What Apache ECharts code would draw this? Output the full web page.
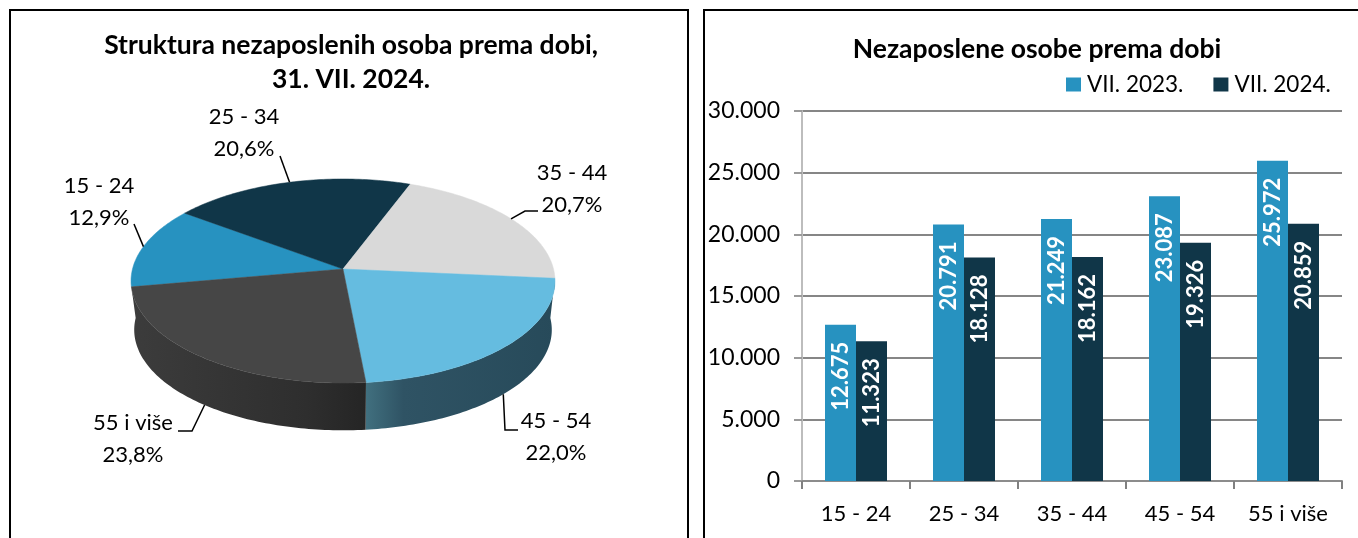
<!DOCTYPE html>
<html>
<head>
<meta charset="utf-8">
<title>Nezaposlene osobe prema dobi</title>
<script src="https://cdn.jsdelivr.net/npm/echarts@6/dist/echarts.min.js"></script>
<style>
  html, body { margin: 0; padding: 0; background: #fff; }
  #chart { width: 1358px; height: 538px; }
</style>
</head>
<body>
<div id="chart"></div>
<script>
const categories = ['15 - 24', '25 - 34', '35 - 44', '45 - 54', '55 i više']
const values2023 = [12675, 20791, 21249, 23087, 25972]
const values2024 = [11323, 18128, 18162, 19326, 20859]
const seriesNames = ['VII. 2023.', 'VII. 2024.']
const yTicks = { min: 0, max: 30000, interval: 5000 }

const FONT = 'Lato, "Noto Sans", sans-serif'
const BLUE = '#2792C0'
const NAVY = '#103648'

// pie look, in pixels (the reference is a 3d pie seen in perspective)
const pie = { cx: 343, cy: 269, rx: 210.5, ry: 100.6, tilt: 0.1176, drop: 49, bottomScale: 0.985, firstAngle: 170 }
const topColors = [BLUE, NAVY, '#D9D9D9', '#65BCE0', '#464646']
const wallColors = {
  3: [[0, '#41707F'], [0.2, '#2F5364'], [1, '#274A5A']],
  4: [[0, '#3C3C3C'], [0.75, '#2E2E2E'], [1, '#252525']]
}
// label centre and the elbow of its leader line
const pieLabels = [
  { x: 99, y: 186, elbow: [[134, 224]] },
  { x: 244, y: 117, elbow: [[280, 156]] },
  { x: 572, y: 173, elbow: [[525, 211], [538, 211]] },
  { x: 556, y: 421, elbow: [[505, 430], [518, 430]], bottom: true },
  { x: 133, y: 423, elbow: [[192, 431], [178, 431]], bottom: true }
]

const total2024 = values2024.reduce((a, b) => a + b, 0)
const shares = values2024.map(v => v / total2024)

function pieRanges() {
  let angle = pie.firstAngle
  return shares.map(s => {
    const start = angle
    angle += s * 360
    return [start, angle]
  })
}

function project(deg, drop, scale) {
  const r = deg * Math.PI / 180
  const u = Math.cos(r)
  const v = Math.sin(r)
  const w = 1 - pie.tilt * v
  return [pie.cx + scale * pie.rx * u / w, pie.cy + drop + scale * pie.ry * v / w]
}

function arc(from, to, drop, scale) {
  const pts = []
  const n = Math.max(2, Math.ceil(Math.abs(to - from)))
  for (let i = 0; i <= n; i++) pts.push(project(from + (to - from) * i / n, drop, scale))
  return pts
}

function renderSlice(params, api) {
  const i = params.dataIndex
  const start = api.value(0)
  const end = api.value(1)
  const children = []

  // side wall, only the front half of the pie shows it
  if (wallColors[i]) {
    const a = Math.max(start, 360)
    const b = Math.min(end, 540)
    const pa = a - 360 < 10 ? 360 : a
    const pb = 540 - b < 12 ? 540 : b
    const pts = arc(a, b, 0, 1).concat(arc(pb, pa, pie.drop, pie.bottomScale))
    children.push({
      type: 'polygon',
      shape: { points: pts },
      style: {
        fill: new echarts.graphic.LinearGradient(0, 0, 1, 0, wallColors[i].map(c => ({ offset: c[0], color: c[1] })))
      }
    })
  }

  children.push({
    type: 'polygon',
    shape: { points: [[pie.cx, pie.cy]].concat(arc(start, end, 0, 1)) },
    style: { fill: topColors[i], stroke: topColors[i], lineWidth: 0.5 }
  })

  const lab = pieLabels[i]
  const mid = (start + end) / 2
  const rim = lab.bottom ? project(mid, pie.drop, pie.bottomScale) : project(mid, 0, 1)
  children.push({
    type: 'polyline',
    shape: { points: [rim].concat(lab.elbow) },
    style: { stroke: '#000', lineWidth: 1.5, fill: null }
  })
  children.push({
    type: 'text',
    style: {
      text: categories[i], x: lab.x, y: lab.y, align: 'center', verticalAlign: 'middle',
      fill: '#000', font: '22px ' + FONT
    }
  })
  children.push({
    type: 'text',
    style: {
      text: (shares[i] * 100).toFixed(1).replace('.', ',') + '%', x: lab.x, y: lab.y + 32, align: 'center', verticalAlign: 'middle',
      fill: '#000', font: '22px ' + FONT
    }
  })
  return { type: 'group', children }
}

function barSeries(name, data, color) {
  return {
    name,
    type: 'bar',
    data,
    barWidth: 31,
    barGap: 0,
    itemStyle: { color },
    label: {
      show: true,
      position: 'insideTop',
      rotate: 90,
      align: 'right',
      verticalAlign: 'middle',
      distance: 17,
      color: '#fff',
      fontFamily: FONT,
      fontWeight: 'bold',
      fontSize: 22,
      formatter: p => thousands(p.value)
    }
  }
}

function thousands(v) {
  return String(v).replace(/\B(?=(\d{3})+$)/g, '.')
}

function frame(x, w) {
  return { type: 'rect', silent: true, shape: { x, y: 10, width: w, height: 560 }, style: { fill: 'none', stroke: '#000', lineWidth: 2 } }
}

const chart = echarts.init(document.getElementById('chart'), null, { renderer: 'canvas' })
chart.setOption({
  animation: false,
  graphic: [frame(10, 678), frame(704, 700)],
  title: [
    {
      text: 'Struktura nezaposlenih osoba prema dobi,\n31. VII. 2024.',
      left: 346, top: 23, textAlign: 'center',
      textStyle: { fontFamily: FONT, fontWeight: 'bold', fontSize: 26.5, lineHeight: 34, color: '#000' }
    },
    {
      text: 'Nezaposlene osobe prema dobi',
      left: 1032, top: 27, textAlign: 'center',
      textStyle: { fontFamily: FONT, fontWeight: 'bold', fontSize: 26.5, lineHeight: 34, color: '#000' }
    }
  ],
  legend: {
    data: seriesNames,
    left: 1066, top: 73,
    padding: 0,
    itemWidth: 15, itemHeight: 14, itemGap: 30,
    icon: 'rect',
    textStyle: { fontFamily: FONT, fontSize: 22.5, color: '#000', padding: [0, 0, 0, 1] }
  },
  grid: { left: 802, right: 16, top: 111, bottom: 57 },
  xAxis: {
    type: 'category',
    data: categories,
    axisLine: { lineStyle: { color: '#8C8C8C', width: 2 } },
    axisTick: { show: true, alignWithLabel: false, length: 8, lineStyle: { color: '#808080', width: 2 } },
    axisLabel: { color: '#000', fontFamily: FONT, fontSize: 22, margin: 22 }
  },
  yAxis: {
    type: 'value',
    min: yTicks.min,
    max: yTicks.max,
    interval: yTicks.interval,
    axisLine: { show: true, lineStyle: { color: '#BDBDBD', width: 2 } },
    axisTick: { show: true, length: 8, lineStyle: { color: '#9A9A9A', width: 2 } },
    splitLine: { lineStyle: { color: '#868686', width: 2 } },
    axisLabel: { color: '#000', fontFamily: FONT, fontSize: 23, margin: 22, formatter: v => thousands(v) }
  },
  series: [
    barSeries(seriesNames[0], values2023, BLUE),
    barSeries(seriesNames[1], values2024, NAVY),
    {
      type: 'custom',
      coordinateSystem: 'none',
      renderItem: renderSlice,
      data: pieRanges(),
      silent: true
    }
  ]
})
window.addEventListener('resize', () => chart.resize())
</script>
</body>
</html>
